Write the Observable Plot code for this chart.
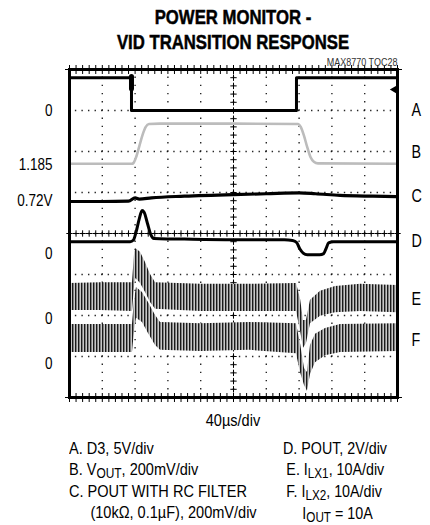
<!DOCTYPE html>
<html>
<head>
<meta charset="utf-8">
<script src="https://cdn.jsdelivr.net/npm/d3@7"></script>
<script src="https://cdn.jsdelivr.net/npm/@observablehq/plot@0.6"></script>
<style>
  html, body { margin: 0; padding: 0; background: #fff; }
  #wrap { position: relative; width: 430px; height: 525px; font-family: 'Liberation Sans', Arial, sans-serif; color: #000; }
  #title { position: absolute; left: 69px; width: 328px; top: 4px; text-align: center; font-weight: bold; font-size: 20.5px; line-height: 25px; transform: scaleX(0.815); transform-origin: 50% 0; -webkit-text-stroke: 0.5px #000; }
  #chart { position: absolute; left: 0; top: 56px; }
  .cap { position: absolute; font-size: 17px; line-height: 21px; white-space: nowrap; transform: scaleX(0.855); transform-origin: 0 0; }
  .sub { font-size: 0.82em; position: relative; top: 3px; }
</style>
</head>
<body>
<svg width="0" height="0" style="position:absolute">
  <defs>
    <pattern id="ripple" patternUnits="userSpaceOnUse" width="3" height="8">
      <rect x="0" y="0" width="3" height="8" fill="#c8c8c8"/>
      <rect x="0" y="0" width="1" height="8" fill="#1a1a1a"/>
      <rect x="1" y="0" width="1" height="8" fill="#808080"/>
    </pattern>
  </defs>
</svg>
<div id="wrap">
  <div id="title">POWER MONITOR -<br>VID TRANSITION RESPONSE</div>
  <div id="chart"></div>
  <div class="cap" style="left:69px;width:328px;text-align:center;top:410px;transform-origin:50% 0;">40µs/div</div>
  <div class="cap" style="left:69px;top:438px;">
    A. D3, 5V/div<br>
    B. V<span class="sub">OUT</span>, 200mV/div<br>
    C. POUT WITH RC FILTER<br>
    <span style="padding-left:25px">(10kΩ, 0.1µF), 200mV/div</span>
  </div>
  <div class="cap" style="left:283px;top:438px;transform:scaleX(0.84);">
    D. POUT, 2V/div<br>
    <span style="padding-left:4px">E. I<span class="sub">LX1</span>, 10A/div</span><br>
    <span style="padding-left:4px">F. I<span class="sub">LX2</span>, 10A/div</span><br>
    <span style="padding-left:23px">I<span class="sub">OUT</span> = 10A</span>
  </div>
</div>
<script>
// time axis: µs (40 µs/div, 10 divisions); vertical axis: screen divisions (8)
const xTicks = [0, 40, 80, 120, 160, 200, 240, 280, 320, 360, 400];
const yTicks = [0, 1, 2, 3, 4, 5, 6, 7, 8];
const xMinor = [0,8,16,24,32,40,48,56,64,72,80,88,96,104,112,120,128,136,144,152,160,168,176,184,192,200,208,216,224,232,240,248,256,264,272,280,288,296,304,312,320,328,336,344,352,360,368,376,384,392,400];
const yMinor = [0,0.2,0.4,0.6,0.8,1,1.2,1.4,1.6,1.8,2,2.2,2.4,2.6,2.8,3,3.2,3.4,3.6,3.8,4,4.2,4.4,4.6,4.8,5,5.2,5.4,5.6,5.8,6,6.2,6.4,6.6,6.8,7,7.2,7.4,7.6,7.8,8];

// left channel reference labels
const leftTickValues = [7.0, 5.68, 4.8, 3.5, 1.93, 0.83];
const leftTickLabels = ["0", "1.185", "0.72V", "0", "0", "0"];
// right channel letters
const rightTickValues = [7.0, 5.98, 4.91, 3.8, 2.4, 1.4];
const rightTickLabels = ["A", "B", "C", "D", "E", "F"];

// A. D3 logic (5V/div)
const traceA = [
  {t: 0, v: 7.8}, {t: 75.6, v: 7.8}, {t: 75.6, v: 7.0}, {t: 276.8, v: 7.0},
  {t: 276.8, v: 7.8}, {t: 400, v: 7.8}
];
// B. VOUT (200mV/div)
const traceB = [
  {t: 0, v: 5.70}, {t: 76, v: 5.70}, {t: 78, v: 5.72}, {t: 81, v: 5.85}, {t: 85, v: 6.12},
  {t: 89, v: 6.40}, {t: 93, v: 6.60}, {t: 97, v: 6.67}, {t: 110, v: 6.68}, {t: 200, v: 6.68},
  {t: 279, v: 6.67}, {t: 282, v: 6.60}, {t: 286, v: 6.38}, {t: 290, v: 6.10}, {t: 294, v: 5.86},
  {t: 298, v: 5.75}, {t: 303, v: 5.71}, {t: 400, v: 5.70}
];
// C. POUT with RC filter (200mV/div)
const traceC = [
  {t: 0, v: 4.78}, {t: 40, v: 4.78}, {t: 72, v: 4.79}, {t: 80, v: 4.87}, {t: 85, v: 4.84},
  {t: 100, v: 4.87}, {t: 140, v: 4.91}, {t: 200, v: 4.95}, {t: 240, v: 4.97}, {t: 280, v: 4.99},
  {t: 300, v: 4.97}, {t: 330, v: 4.93}, {t: 370, v: 4.91}, {t: 400, v: 4.90}
];
// D. POUT (2V/div)
const traceD = [
  {t: 0, v: 3.80}, {t: 74, v: 3.80}, {t: 78, v: 3.84}, {t: 81, v: 4.02}, {t: 85, v: 4.35},
  {t: 88.5, v: 4.56}, {t: 91, v: 4.52}, {t: 95, v: 4.25}, {t: 99, v: 3.98}, {t: 103, v: 3.88},
  {t: 150, v: 3.86}, {t: 200, v: 3.85}, {t: 262, v: 3.85}, {t: 272, v: 3.83}, {t: 277, v: 3.78},
  {t: 281, v: 3.62}, {t: 285, v: 3.52}, {t: 290, v: 3.48}, {t: 305, v: 3.48}, {t: 310, v: 3.51},
  {t: 313, v: 3.64}, {t: 316, v: 3.77}, {t: 322, v: 3.80}, {t: 400, v: 3.80}
];
// E. ILX1 ripple envelope (10A/div)
const traceE = [
  {t: 0, lo: 2.12, hi: 2.78}, {t: 38, lo: 2.12, hi: 2.80}, {t: 76.8, lo: 2.10, hi: 2.80},
  {t: 79.5, lo: 2.75, hi: 3.55}, {t: 81, lo: 2.90, hi: 3.63}, {t: 86.6, lo: 2.78, hi: 3.54},
  {t: 92.7, lo: 2.56, hi: 3.29}, {t: 98.8, lo: 2.32, hi: 3.00}, {t: 104.9, lo: 2.15, hi: 2.80},
  {t: 160, lo: 2.10, hi: 2.76}, {t: 220, lo: 2.10, hi: 2.76}, {t: 276.8, lo: 2.10, hi: 2.78},
  {t: 281.7, lo: 1.63, hi: 2.41}, {t: 285.4, lo: 1.20, hi: 1.88}, {t: 289, lo: 1.32, hi: 1.88},
  {t: 293.9, lo: 1.80, hi: 2.37}, {t: 306.1, lo: 1.98, hi: 2.59}, {t: 324.4, lo: 2.07, hi: 2.71},
  {t: 355, lo: 2.10, hi: 2.76}, {t: 400, lo: 2.07, hi: 2.73}
];
// F. ILX2 ripple envelope (10A/div)
const traceF = [
  {t: 0, lo: 1.10, hi: 1.78}, {t: 76.8, lo: 1.10, hi: 1.78}, {t: 79.3, lo: 1.63, hi: 2.37},
  {t: 81.7, lo: 1.93, hi: 2.68}, {t: 89, lo: 1.83, hi: 2.56}, {t: 96.3, lo: 1.56, hi: 2.32},
  {t: 104.9, lo: 1.27, hi: 2.00}, {t: 111, lo: 1.15, hi: 1.83}, {t: 160, lo: 1.12, hi: 1.80},
  {t: 220, lo: 1.15, hi: 1.83}, {t: 276.8, lo: 1.07, hi: 1.80}, {t: 281.7, lo: 0.61, hi: 1.32},
  {t: 286.6, lo: 0.29, hi: 0.71}, {t: 290.2, lo: 0.15, hi: 0.61}, {t: 293.9, lo: 0.56, hi: 1.27},
  {t: 300, lo: 0.85, hi: 1.54}, {t: 312.2, lo: 1.02, hi: 1.68}, {t: 330.5, lo: 1.10, hi: 1.78},
  {t: 400, lo: 1.12, hi: 1.80}
];
// trigger position marker and trigger level arrow
const triggerPos = [{t: 75.6, v1: 7.52, v2: 7.82}];
const triggerLevel = [{t: 400, v: 7.51}];
const noteText = ["MAX8770 TOC28"];

const FONT = "'Liberation Sans', Arial, sans-serif";
const leftMap = new Map(leftTickValues.map((d, i) => [d, leftTickLabels[i]]));
const rightMap = new Map(rightTickValues.map((d, i) => [d, rightTickLabels[i]]));

const chart = Plot.plot({
  width: 430,
  height: 346,
  marginTop: 13,
  marginLeft: 69,
  marginRight: 33,
  marginBottom: 5,
  x: {domain: [0, 400], axis: null},
  y: {domain: [0, 8], axis: null},
  style: {fontFamily: FONT, fontSize: "16px", background: "white", color: "black"},
  marks: [
    Plot.ruleX(xTicks.slice(1, -1), {stroke: "#000", strokeWidth: 1.4, strokeDasharray: "1.4 6.8", strokeDashoffset: 0.7, strokeOpacity: 0.85}),
    Plot.ruleY(yTicks.slice(1, -1), {stroke: "#000", strokeWidth: 1.4, strokeDasharray: "1.4 5.16", strokeDashoffset: 0.7, strokeOpacity: 0.85}),
    Plot.dot(yMinor, {x: () => 200, y: d => d, symbol: "plus", r: 2.2, stroke: "#000", strokeWidth: 1}),
    Plot.dot(xMinor, {x: d => d, y: () => 4, symbol: "plus", r: 2.2, stroke: "#000", strokeWidth: 1}),
    Plot.dot(xMinor, {x: d => d, y: () => 0, symbol: "plus", r: 3, stroke: "#000", strokeWidth: 1}),
    Plot.dot(xMinor, {x: d => d, y: () => 8, symbol: "plus", r: 3, stroke: "#000", strokeWidth: 1}),
    Plot.areaY(traceE, {x: "t", y1: "lo", y2: "hi", fill: "url(#ripple)", curve: "linear"}),
    Plot.areaY(traceF, {x: "t", y1: "lo", y2: "hi", fill: "url(#ripple)", curve: "linear"}),
    Plot.line(traceB, {x: "t", y: "v", stroke: "#bcbcbc", strokeWidth: 2.6, curve: "monotone-x"}),
    Plot.line(traceC, {x: "t", y: "v", stroke: "#000", strokeWidth: 3.2, curve: "monotone-x"}),
    Plot.line(traceD, {x: "t", y: "v", stroke: "#000", strokeWidth: 3, curve: "monotone-x"}),
    Plot.line(traceA, {x: "t", y: "v", stroke: "#000", strokeWidth: 3, curve: "linear"}),
    Plot.ruleX(triggerPos, {x: "t", y1: "v1", y2: "v2", stroke: "#000", strokeWidth: 5, strokeLinecap: "round"}),
    Plot.dot(triggerLevel, {x: "t", y: "v", symbol: "triangle", rotate: -90, r: 3, fill: "#000", dx: -3}),
    Plot.frame({stroke: "#000", strokeWidth: 3}),
    Plot.axisY(leftTickValues, {anchor: "left", tickSize: 0, tickPadding: 17, tickFormat: d => leftMap.get(d), fontSize: 16.5}),
    Plot.axisY(rightTickValues, {anchor: "right", tickSize: 0, tickPadding: 14, tickFormat: d => rightMap.get(d), fontSize: 17.5}),
    Plot.text(noteText, {frameAnchor: "top-right", lineAnchor: "middle", dy: -7, fontSize: 11, fill: "#333"})
  ]
});

// condense every label horizontally about its own anchor x (narrow-font look)
chart.querySelectorAll("text").forEach(t => {
  const xa = t.getAttribute("x");
  const x = xa && !/[a-z%]/i.test(xa) ? parseFloat(xa) : 0;
  const T = t.getAttribute("transform") || "";
  t.setAttribute("transform", `${T} translate(${x},0) scale(0.82,1) translate(${-x},0)`);
});
document.getElementById("chart").appendChild(chart);
</script>
</body>
</html>
